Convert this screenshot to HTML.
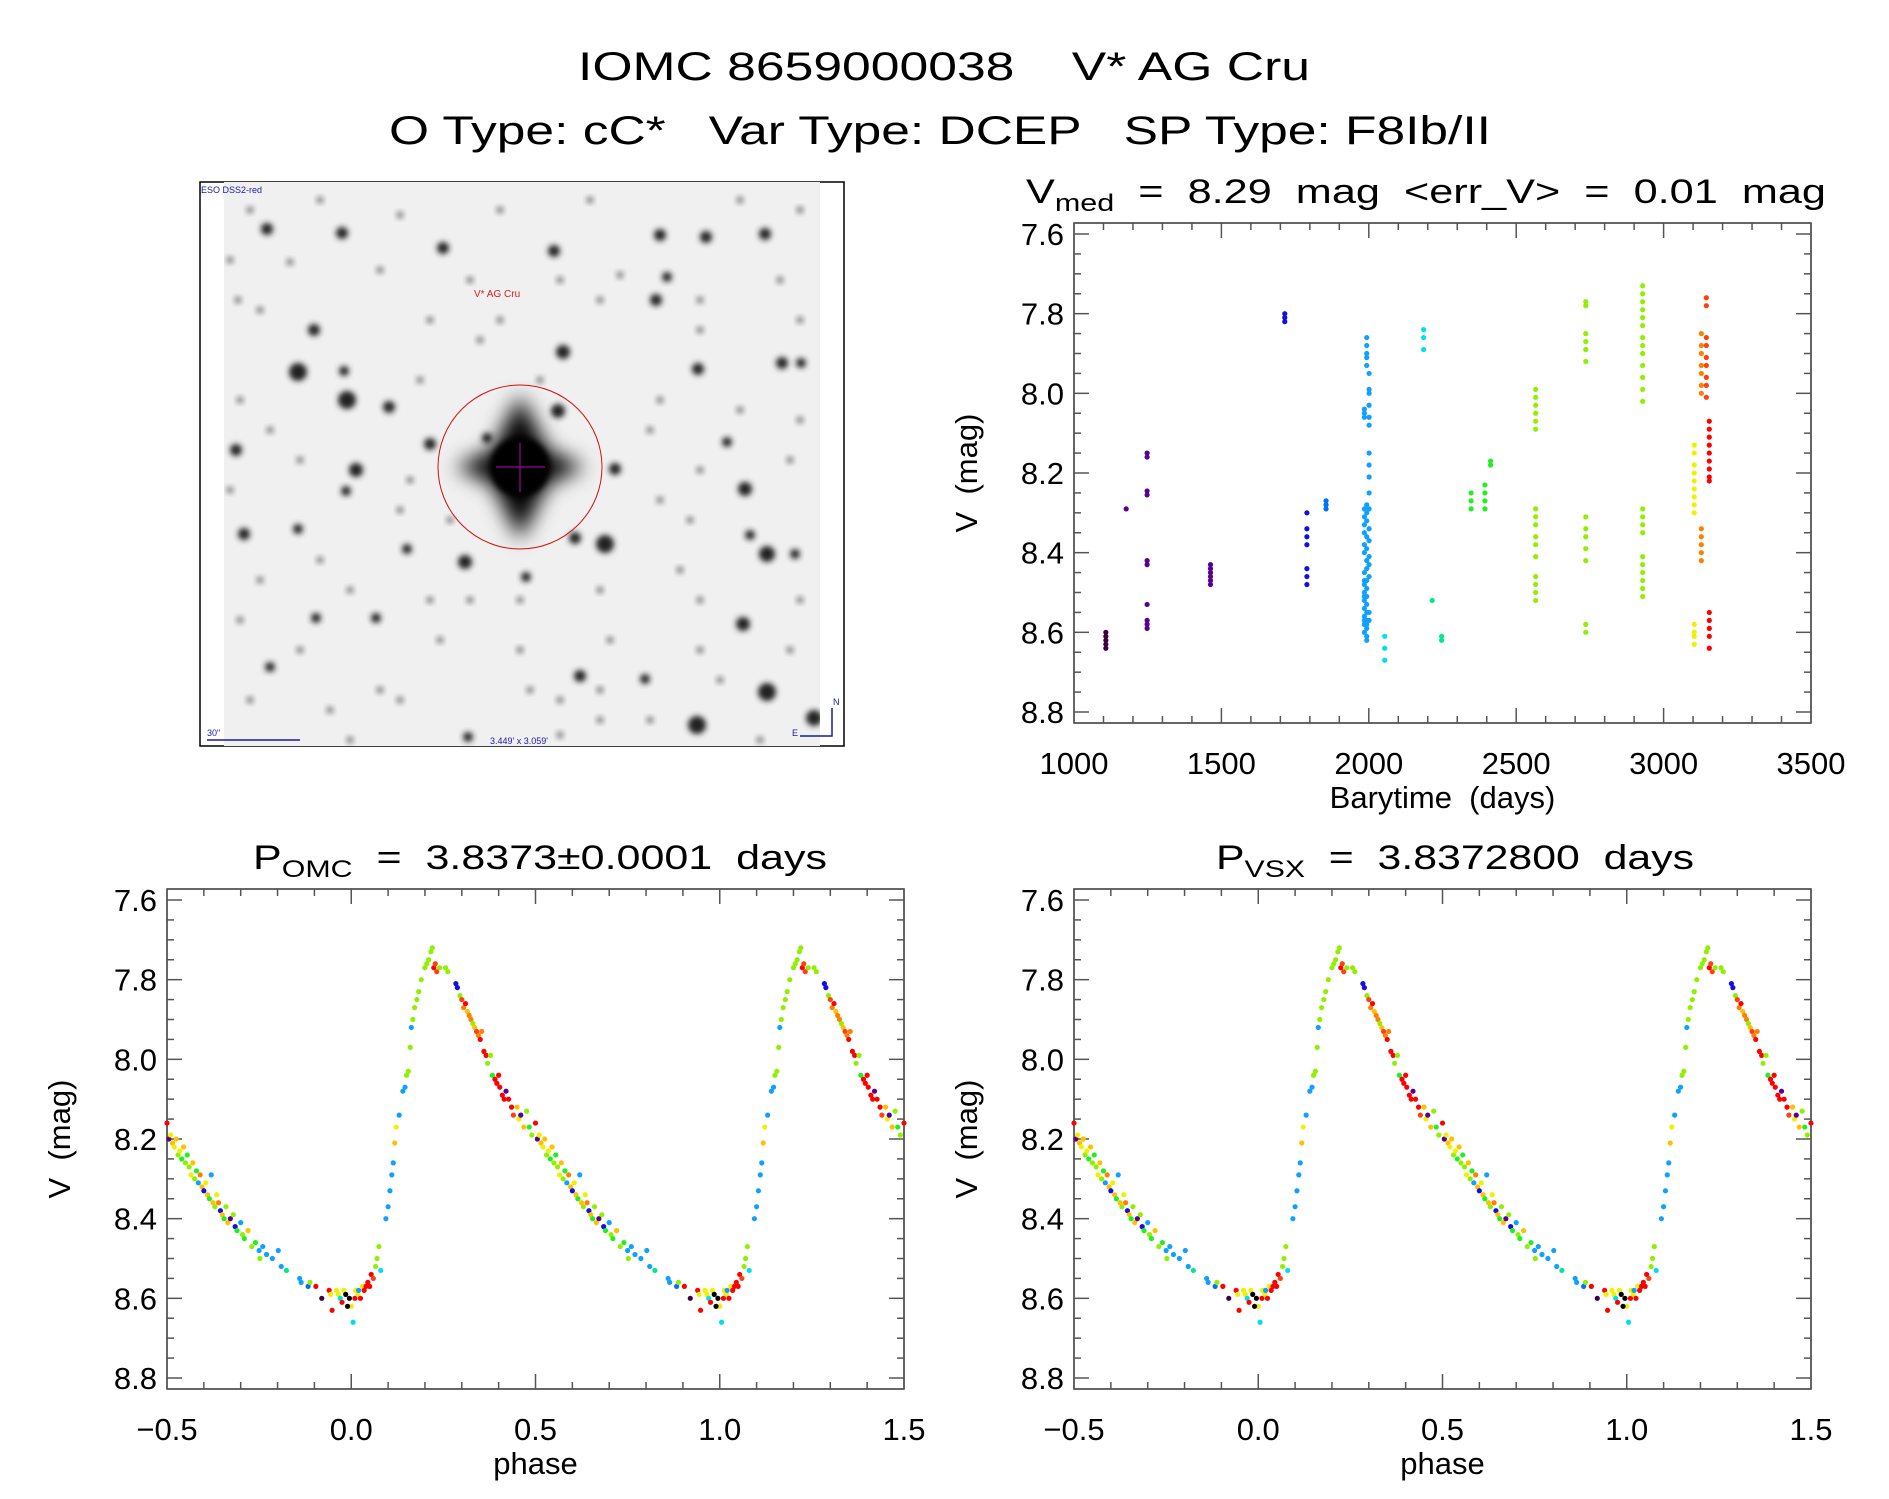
<!DOCTYPE html>
<html><head><meta charset="utf-8"><style>
html,body{margin:0;padding:0;background:#fff;}
svg text{font-family:"Liberation Sans",sans-serif;fill:#000;white-space:pre;}
</style></head><body>
<svg id="root" width="1889" height="1494" viewBox="0 0 1889 1494" xmlns="http://www.w3.org/2000/svg" xml:space="preserve">
<defs>
<filter id="blur" x="-50%" y="-50%" width="200%" height="200%"><feGaussianBlur stdDeviation="3"/></filter>
<filter id="blur2" x="-50%" y="-50%" width="200%" height="200%"><feGaussianBlur stdDeviation="10"/></filter>
<clipPath id="imgclip"><rect x="224" y="182" width="596" height="564"/></clipPath>
</defs>
<text x="578" y="80" font-size="40" textLength="732" lengthAdjust="spacingAndGlyphs">IOMC 8659000038    V* AG Cru</text>
<text x="389" y="144" font-size="40" textLength="1102" lengthAdjust="spacingAndGlyphs">O Type: cC*   Var Type: DCEP   SP Type: F8Ib/II</text>

<g>
<rect x="200" y="182" width="644" height="564" fill="#fff" stroke="#000" stroke-width="1.5"/>
<rect x="224" y="182" width="596" height="564" fill="#f0f0f0"/>
<g id="stars" clip-path="url(#imgclip)"></g>
<text x="201" y="193" font-size="9" style="fill:#1a1aa0">ESO DSS2-red</text>
<text x="474" y="297" font-size="10" style="fill:#d02020">V* AG Cru</text>
<circle cx="520" cy="467" r="82" fill="none" stroke="#d01010" stroke-width="1"/>
<line x1="496" y1="467" x2="545" y2="467" stroke="#c000c0" stroke-width="1"/>
<line x1="520" y1="443" x2="520" y2="492" stroke="#c000c0" stroke-width="1"/>
<line x1="207" y1="740" x2="300" y2="740" stroke="#1a1aa0" stroke-width="1.5"/>
<text x="207" y="736" font-size="9" style="fill:#1a1aa0">30"</text>
<text x="490" y="744" font-size="9" style="fill:#1a1aa0">3.449' x 3.059'</text>
<polyline points="800,736 832,736 832,708" fill="none" stroke="#1a1aa0" stroke-width="1.5"/>
<text x="833" y="705" font-size="9" style="fill:#1a1aa0">N</text>
<text x="792" y="736" font-size="9" style="fill:#1a1aa0">E</text>
</g>
<g id="plots"></g>
</svg>
<script>
// ---------- Light curve data (time groups) ----------
const lcTimes = [1108,1177,1248,1463,1715,1790,1855,1985,1993,2001,2054,2186,2215,2247,2347,2394,2413,2566,2736,2929,3104,3128,3145,3155];
const lcMags = [
 [8.60,8.61,8.62,8.63,8.64],
 [8.29],
 [8.15,8.16,8.245,8.255,8.42,8.43,8.53,8.57,8.58,8.59],
 [8.43,8.44,8.45,8.46,8.47,8.48],
 [7.80,7.81,7.82],
 [8.30,8.34,8.36,8.38,8.44,8.46,8.48],
 [8.27,8.28,8.29],
 [8.04,8.05,8.06,8.29,8.31,8.33,8.35,8.38,8.40,8.45,8.47,8.48,8.50,8.51,8.52,8.54,8.56,8.57,8.58,8.60],
 [7.86,7.88,7.90,7.91,7.93,8.28,8.30,8.32,8.36,8.39,8.42,8.44,8.47,8.49,8.51,8.53,8.55,8.57,8.58,8.59,8.61,8.62],
 [7.95,7.99,8.00,8.03,8.06,8.08,8.15,8.18,8.21,8.25,8.29,8.34,8.37,8.41,8.43,8.46,8.55,8.57],
 [8.61,8.64,8.67],
 [7.84,7.86,7.89],
 [8.52],
 [8.61,8.62],
 [8.25,8.27,8.29],
 [8.23,8.25,8.27,8.29],
 [8.17,8.18],
 [7.99,8.01,8.03,8.05,8.07,8.09,8.29,8.31,8.33,8.36,8.38,8.41,8.46,8.48,8.50,8.52],
 [7.77,7.78,7.85,7.87,7.89,7.92,8.31,8.34,8.36,8.39,8.42,8.58,8.60],
 [7.73,7.75,7.77,7.79,7.81,7.83,7.86,7.88,7.90,7.93,7.96,7.99,8.02,8.29,8.31,8.33,8.35,8.41,8.43,8.45,8.47,8.49,8.51],
 [8.13,8.15,8.18,8.20,8.22,8.24,8.26,8.28,8.30,8.58,8.60,8.61,8.63],
 [7.85,7.88,7.90,7.93,7.95,7.98,8.00,8.34,8.36,8.38,8.40,8.42],
 [7.76,7.78,7.86,7.88,7.91,7.93,7.96,7.98,8.01],
 [8.07,8.09,8.11,8.13,8.15,8.17,8.19,8.21,8.22,8.55,8.57,8.59,8.61,8.64]
];
const lcColors = [0,1,1,1,2,2,3,4,4,4,5,5,6,6,7,7,7,8,8,8,9,11,12,13];
// ---------- Phase-folded data (phase in [0,1)) ----------
const phPhase = [0.00,0.005,0.01,0.012,0.018,0.02,0.025,0.03,0.035,0.04,0.045,0.05,0.054,0.06,0.066,0.07,0.075,0.08,0.094,0.10,0.105,0.11,0.114,0.118,0.122,0.13,0.14,0.146,0.15,0.155,0.16,0.163,0.167,0.172,0.178,0.183,0.19,0.2,0.205,0.21,0.216,0.22,0.224,0.228,0.232,0.24,0.256,0.262,0.284,0.288,0.295,0.30,0.305,0.31,0.315,0.32,0.325,0.33,0.335,0.34,0.345,0.35,0.354,0.36,0.366,0.37,0.378,0.383,0.39,0.395,0.40,0.403,0.41,0.415,0.42,0.427,0.435,0.44,0.45,0.455,0.46,0.468,0.476,0.483,0.49,0.5,0.505,0.51,0.515,0.52,0.525,0.53,0.535,0.54,0.545,0.55,0.555,0.56,0.565,0.57,0.575,0.58,0.585,0.59,0.595,0.60,0.605,0.61,0.615,0.62,0.625,0.63,0.635,0.64,0.645,0.65,0.655,0.66,0.665,0.672,0.68,0.685,0.69,0.70,0.705,0.71,0.72,0.73,0.74,0.75,0.752,0.76,0.77,0.786,0.802,0.81,0.824,0.86,0.864,0.883,0.888,0.904,0.92,0.94,0.944,0.948,0.96,0.965,0.97,0.975,0.98,0.985,0.99,0.995];
const phMags = [8.62,8.66,8.60,8.58,8.59,8.58,8.60,8.57,8.58,8.57,8.56,8.57,8.54,8.55,8.52,8.50,8.47,8.53,8.40,8.37,8.33,8.29,8.26,8.21,8.17,8.14,8.08,8.07,8.04,8.03,7.97,7.92,7.90,7.87,7.85,7.83,7.80,7.77,7.76,7.75,7.73,7.72,7.77,7.76,7.78,7.77,7.77,7.78,7.81,7.82,7.84,7.85,7.87,7.86,7.88,7.89,7.90,7.91,7.92,7.93,7.94,7.95,7.93,7.98,7.99,8.01,7.99,8.04,8.05,8.06,8.04,8.07,8.09,8.10,8.08,8.10,8.12,8.14,8.12,8.15,8.14,8.17,8.13,8.17,8.19,8.16,8.20,8.19,8.21,8.22,8.20,8.24,8.23,8.25,8.22,8.26,8.24,8.27,8.29,8.26,8.30,8.28,8.31,8.29,8.32,8.33,8.31,8.34,8.35,8.29,8.36,8.37,8.34,8.36,8.38,8.39,8.40,8.37,8.41,8.40,8.39,8.42,8.43,8.41,8.44,8.45,8.43,8.47,8.46,8.48,8.50,8.47,8.49,8.50,8.48,8.52,8.53,8.55,8.56,8.57,8.56,8.57,8.60,8.58,8.59,8.63,8.58,8.59,8.60,8.61,8.58,8.59,8.62,8.60];
const phColors = [9,5,13,9,9,4,13,9,13,13,13,13,13,12,8,8,8,5,4,4,4,4,4,10,9,4,4,4,8,8,8,4,8,8,8,8,8,8,8,8,8,8,13,12,12,8,8,8,2,2,8,12,11,13,10,11,11,8,10,12,11,13,11,13,13,8,8,7,13,13,13,13,13,13,1,13,13,12,10,9,1,10,8,7,8,13,1,9,10,9,10,8,9,7,10,8,7,8,9,10,8,7,4,11,10,2,9,10,7,4,10,8,9,11,2,10,7,8,10,1,8,2,7,4,8,7,10,8,7,4,8,4,4,4,4,4,6,4,4,3,8,13,0,13,9,13,9,9,5,13,9];
const palette = ["#400040","#5a0090","#1010e0","#0070ff","#10a0ff","#00e0e8","#00e890","#20f020","#90f000","#f0f000","#ffc000","#ff8000","#ff4010","#ff0000"];
// axis ticks
const magTicks = [7.6,7.8,8.0,8.2,8.4,8.6,8.8];
const timeTicks = [1000,1500,2000,2500,3000,3500];
const phaseTicks = [-0.5,0.0,0.5,1.0,1.5];
const phaseTickLabels = ["\u22120.5","0.0","0.5","1.0","1.5"];

const NS="http://www.w3.org/2000/svg";
const plots=document.getElementById('plots');
function mk(tag,attrs,parent){const e=document.createElementNS(NS,tag);for(const k in attrs)e.setAttribute(k,attrs[k]);(parent||plots).appendChild(e);return e;}

// stars
const starG=document.getElementById('stars');
const stars=[[267,229,6],[342,233,6],[443,248,6],[554,251,6],[660,235,6],[706,237,6],[765,234,6],[667,277,5],[656,300,6],[314,330,6],[563,352,7],[298,372,9],[344,371,5],[698,369,6],[782,363,6],[801,363,5],[347,400,9],[389,407,6],[558,411,7],[430,444,6],[487,438,5],[236,450,6],[356,470,7],[615,469,6],[745,489,7],[727,442,5],[346,491,5],[244,534,6],[298,529,5],[605,544,9],[575,538,6],[750,535,5],[767,554,8],[795,554,5],[465,562,7],[407,549,5],[526,577,5],[316,618,5],[376,618,5],[743,624,7],[580,676,6],[767,692,9],[697,725,9],[814,718,8],[270,667,5],[645,679,5],[468,737,5]];
const faint=[[290,262],[238,300],[600,300],[700,300],[450,520],[380,690],[600,720],[320,560],[700,600],[250,210],[320,200],[400,215],[500,210],[590,200],[740,200],[800,210],[230,260],[380,270],[470,280],[560,280],[620,275],[780,280],[260,310],[430,320],[480,340],[700,330],[800,320],[240,400],[420,380],[660,400],[740,410],[800,420],[270,430],[410,480],[650,430],[790,460],[230,490],[400,510],[660,500],[700,470],[260,580],[350,590],[430,600],[520,600],[600,590],[680,570],[800,600],[240,620],[300,650],[440,640],[520,650],[610,640],[700,650],[790,650],[250,700],[330,710],[400,700],[530,690],[600,690],[650,720],[720,680],[350,740],[560,735],[760,740],[500,320],[540,380],[470,600],[300,460],[690,520],[560,700]];
stars.forEach(s=>{const c=mk('circle',{cx:s[0],cy:s[1],r:s[2],fill:'#222',filter:'url(#blur)'},starG);

});
faint.forEach(s=>{const c=mk('circle',{cx:s[0],cy:s[1],r:3.5,fill:'#777',filter:'url(#blur)'},starG);

});
mk('line',{x1:224,y1:467,x2:820,y2:467,stroke:'#777','stroke-width':3,filter:'url(#blur)'},starG);
mk('line',{x1:520,y1:182,x2:520,y2:746,stroke:'#888','stroke-width':3,filter:'url(#blur)'},starG);
const cb=mk('path',{d:'M520,395 L548,450 L585,467 L548,484 L520,540 L492,484 L455,467 L492,450 Z',fill:'#000',filter:'url(#blur2)'},starG);


mk('circle',{cx:520,cy:467,r:30,fill:'#000',filter:'url(#blur)'},starG);

function axes(L,R,T,B,xmin,xmax,xTicks,xLabels,xMinorStep,xTitle,titleParts,titleX,titleLen,name){
  const ymin=7.6,ymax=8.8,yTop=T+11,yBot=B-11;
  const sx=v=>L+(v-xmin)/(xmax-xmin)*(R-L);
  const sy=v=>yTop+(v-ymin)/(ymax-ymin)*(yBot-yTop);
  const g=mk('g',{});
  
  
  mk('rect',{x:L,y:T,width:R-L,height:B-T,fill:'none',stroke:'#333','stroke-width':1.5},g);
  for(let v=ymin;v<=ymax+1e-9;v+=0.05){
    const major=Math.abs(Math.round(v*5)-v*5)<1e-6; const len=major?15:7; const y=sy(v);
    mk('line',{x1:L,y1:y,x2:L+len,y2:y,stroke:'#555','stroke-width':1.5},g);
    mk('line',{x1:R,y1:y,x2:R-len,y2:y,stroke:'#555','stroke-width':1.5},g);
  }
  magTicks.forEach(v=>{const t=mk('text',{x:L-10,y:sy(v)+11,'font-size':31,'text-anchor':'end'},g);t.textContent=v.toFixed(1);
    
    });
  for(let v=xmin;v<=xmax+1e-9;v+=xMinorStep){
    const major=xTicks.some(t=>Math.abs(t-v)<1e-6); const len=major?15:7; const x=sx(v);
    mk('line',{x1:x,y1:B,x2:x,y2:B-len,stroke:'#555','stroke-width':1.5},g);
    mk('line',{x1:x,y1:T,x2:x,y2:T+len,stroke:'#555','stroke-width':1.5},g);
  }
  xTicks.forEach((v,i)=>{const t=mk('text',{x:sx(v),y:B+51,'font-size':31,'text-anchor':'middle'},g);t.textContent=xLabels[i];
    
    });
  const xt=mk('text',{x:(L+R)/2,y:B+85,'font-size':31,'text-anchor':'middle'},g);xt.textContent=xTitle;
  
  
  const yx=L-97, yc=(T+B)/2;
  const yt=mk('text',{x:yx,y:yc,'font-size':31,'text-anchor':'middle',transform:`rotate(-90 ${yx} ${yc})`},g);yt.textContent='V  (mag)';
  
  
  const tt=mk('text',{x:titleX,y:T-20,'font-size':34,textLength:titleLen,lengthAdjust:'spacingAndGlyphs'},g);
  
  
  titleParts.forEach(p=>{const ts=mk('tspan',p.sub?{'font-size':24,dy:8}:{'dy':p.up?-8:0},tt);ts.textContent=p.t;});
  return {sx,sy,g};
}
function dot(g,x,y,c){const d=mk('circle',{cx:x,cy:y,r:2.6,fill:c},g);
  
  }

const A=axes(1074,1811,223,723,1000,3500,timeTicks,timeTicks.map(String),100,'Barytime  (days)',
 [{t:'V'},{t:'med',sub:true},{t:'  =  8.29  mag  <err_V>  =  0.01  mag',up:true}],1026,800,'light-curve-plot');
lcTimes.forEach((t,i)=>lcMags[i].forEach(m=>dot(A.g,A.sx(t),A.sy(m),palette[lcColors[i]])));

function phasePlot(L,R,title,tx,tl,name){
  const P=axes(L,R,889,1389,-0.5,1.5,phaseTicks,phaseTickLabels,0.1,'phase',title,tx,tl,name);
  phPhase.forEach((p,i)=>{[-1,0,1].forEach(k=>{const q=p+k;if(q>=-0.5&&q<=1.5)dot(P.g,P.sx(q),P.sy(phMags[i]),palette[phColors[i]]);});});
}
phasePlot(167,904,[{t:'P'},{t:'OMC',sub:true},{t:'  =  3.8373\u00b10.0001  days',up:true}],253,574,'phase-plot-omc');
phasePlot(1074,1811,[{t:'P'},{t:'VSX',sub:true},{t:'  =  3.8372800  days',up:true}],1216,478,'phase-plot-vsx');
</script>
</body></html>
